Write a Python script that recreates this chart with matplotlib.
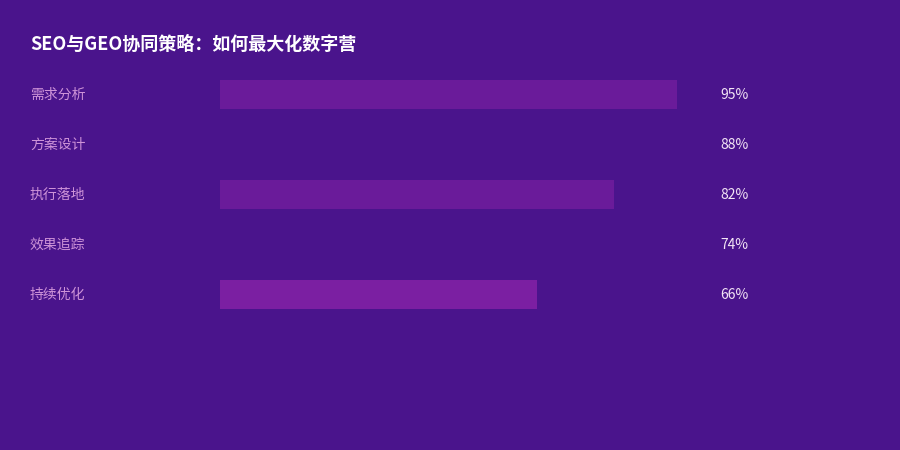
import matplotlib
matplotlib.use("Agg")
import matplotlib.pyplot as plt
from matplotlib.transforms import blended_transform_factory

plt.rcParams['font.family'] = ['Noto Sans CJK SC', 'DejaVu Sans']

title = 'SEO与GEO协同策略：如何最大化数字营'
stages = ['需求分析', '方案设计', '执行落地', '效果追踪', '持续优化']
scores = [95, 88, 82, 74, 66]
bar_colors = ['#6a1b9a', '#4a148c', '#6a1b9a', '#4a148c', '#7b1fa2']

bg = '#4a148c'
fig = plt.figure(figsize=(9, 4.5), dpi=100, facecolor=bg)
ax = fig.add_axes([220 / 900, 1 - 319 / 450, 481 / 900, 250 / 450])
ax.set_facecolor(bg)

ax.barh(range(len(stages)), scores, height=0.58, color=bar_colors)
ax.set_xlim(0, 100)
ax.set_ylim(len(stages) - 0.5, -0.5)
ax.axis('off')

tr = blended_transform_factory(fig.transFigure, ax.transData)
for i, (name, val) in enumerate(zip(stages, scores)):
    ax.text(30 / 900, i + 0.02, name, transform=tr, ha='left', va='center',
            fontsize=10, color='#ce93d8')
    ax.text(720 / 900, i + 0.02, f'{val}%', transform=tr, ha='left', va='center',
            fontsize=10, color='#f3e5f5')

fig.text(30 / 900, 1 - 44 / 450, title, ha='left', va='center',
         fontsize=13, fontweight='bold', color='white')

fig.savefig('out.png', facecolor=bg)
